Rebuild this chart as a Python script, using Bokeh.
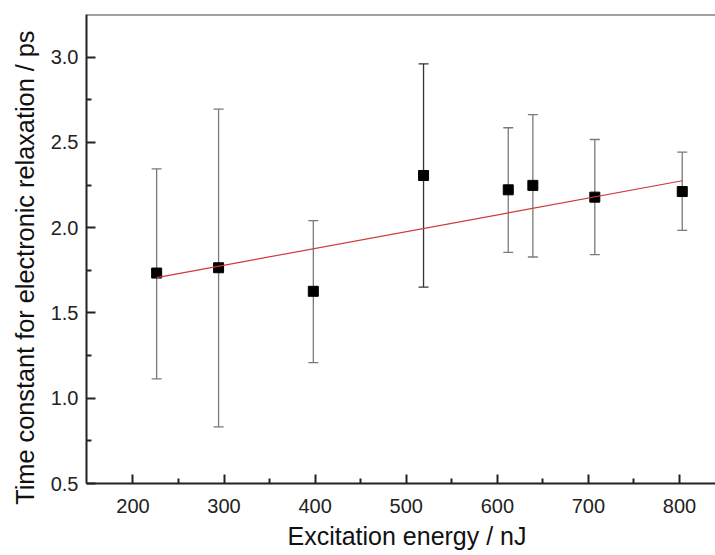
from bokeh.plotting import figure
from bokeh.models import FixedTicker, Span, ColumnDataSource, Range1d, Title, PrintfTickFormatter
from bokeh.embed import file_html
from bokeh.resources import INLINE

# Data
energy = [226, 294, 398, 519, 612, 639, 707, 803]
tau = [1.734, 1.765, 1.627, 2.306, 2.222, 2.248, 2.179, 2.212]
tau_hi = [2.345, 2.695, 2.041, 2.960, 2.586, 2.663, 2.517, 2.443]
tau_lo = [1.113, 0.832, 1.209, 1.652, 1.855, 1.828, 1.842, 1.984]
bar_color = ["#7a7a7a", "#7a7a7a", "#7a7a7a", "#333333", "#7a7a7a", "#7a7a7a", "#7a7a7a", "#7a7a7a"]
fit_x = [226, 803]
fit_y = [1.707, 2.275]
x_ticks = [200, 300, 400, 500, 600, 700, 800]
x_minor = [250, 350, 450, 550, 650, 750]
y_ticks = [0.5, 1.0, 1.5, 2.0, 2.5, 3.0]
y_minor = [0.75, 1.25, 1.75, 2.25, 2.75]
x_title = "Excitation energy / nJ"
y_title = "Time constant for electronic relaxation / ps"

FONT = "Liberation Sans"

p = figure(width=715, height=555, output_backend="svg", toolbar_location=None,
           x_range=Range1d(149, 839.5), y_range=Range1d(0.5, 3.25),
           min_border_left=86, min_border_right=0, min_border_top=14, min_border_bottom=72)
p.outline_line_color = None
p.grid.visible = False
p.background_fill_color = "white"
p.border_fill_color = "white"

for ax, ticks, minor in ((p.xaxis[0], x_ticks, x_minor), (p.yaxis[0], y_ticks, y_minor)):
    ax.ticker = FixedTicker(ticks=ticks, minor_ticks=minor)
    ax.axis_line_width = 2
    ax.axis_line_color = "#222222"
    ax.major_tick_line_color = "#222222"
    ax.minor_tick_line_color = "#222222"
    ax.major_tick_line_width = 2
    ax.minor_tick_line_width = 2
    ax.major_tick_in = 9
    ax.major_tick_out = 0
    ax.minor_tick_in = 5
    ax.minor_tick_out = 0
    ax.major_label_text_font = FONT
    ax.major_label_text_font_size = "20px"
    ax.major_label_text_color = "#222222"
p.yaxis.formatter = PrintfTickFormatter(format="%.1f")
p.xaxis.major_label_standoff = 15
p.yaxis.major_label_standoff = 8

# top frame line
p.add_layout(Span(location=p.y_range.end, dimension="width", line_color="#444444", line_width=2))

src = ColumnDataSource(dict(x=energy, y=tau, hi=tau_hi, lo=tau_lo, c=bar_color))
p.segment(x0="x", y0="lo", x1="x", y1="hi", source=src, line_color="c", line_width=1.3)
p.dash(x="x", y="hi", source=src, size=10, line_color="c", line_width=1.3)
p.dash(x="x", y="lo", source=src, size=10, line_color="c", line_width=1.3)
p.scatter(x="x", y="y", source=src, marker="square", size=10, fill_color="black", line_color="black")
p.line(fit_x, fit_y, line_color="#cc3a3a", line_width=1.2)

xt = Title(text=x_title, align="left", offset=201, text_font=FONT, text_font_size="25px",
           text_font_style="normal", text_color="#111111", standoff=9)
p.add_layout(xt, "below")
yt = Title(text=y_title, align="right", offset=16, text_font=FONT, text_font_size="25.3px",
           text_font_style="normal", text_color="#111111", standoff=16.5)
p.add_layout(yt, "left")

open("out.html", "w").write(file_html(p, INLINE))
